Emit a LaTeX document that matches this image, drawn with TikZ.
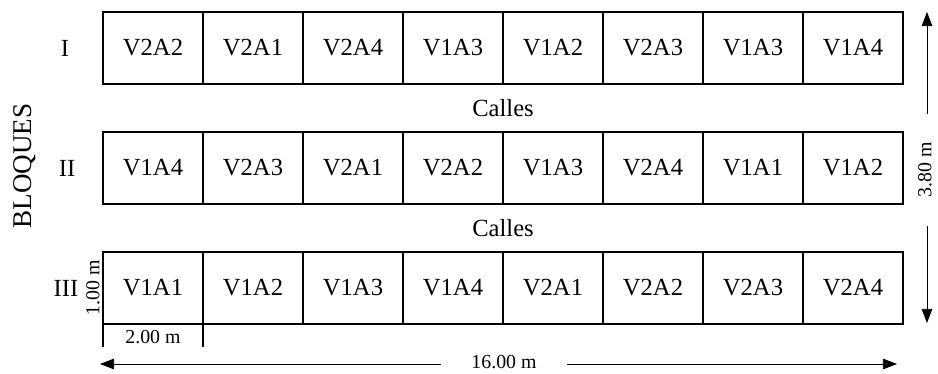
\documentclass[tikz,border=0pt]{standalone}
\usepackage{fontspec}
\setmainfont{Liberation Serif}
\usetikzlibrary{arrows.meta}
\begin{document}
\begin{tikzpicture}
[x=0.02cm,y=-0.02cm,>={Triangle[length=8pt,width=6pt]},
 cell/.style = {draw, line width=1pt, minimum width=2cm, minimum height=1.45cm, inner sep=0pt, outer sep=0pt, font=\fontsize{14}{16}\selectfont},
 big/.style = {font=\fontsize{14}{16}\selectfont},
 small/.style = {font=\fontsize{11.3}{13}\selectfont},]
\useasboundingbox (0,0) rectangle (938,374);
% bloque I
\foreach \lab [count=\i] in {V2A2,V2A1,V2A4,V1A3,V1A2,V2A3,V1A3,V1A4}
  \node[cell] (a\i) at (53+100*\i,48) {\lab};
% bloque II
\foreach \lab [count=\i] in {V1A4,V2A3,V2A1,V2A2,V1A3,V2A4,V1A1,V1A2}
  \node[cell] (b\i) at (53+100*\i,168) {\lab};
% bloque III
\foreach \lab [count=\i] in {V1A1,V1A2,V1A3,V1A4,V2A1,V2A2,V2A3,V2A4}
  \node[cell] (c\i) at (53+100*\i,288) {\lab};

\node[big] (I) at (65,48) {I};
\node[big] (II) at (67,168) {II};
\node[big] (III) at (66,288) {III};
\node[big] at (503,108) {Calles};
\node[big] at (503,228) {Calles};
\node[font=\fontsize{15.4}{18}\selectfont, rotate=90] (B) at (25,166) {BLOQUES};

% medidas de una parcela
\node[small, rotate=90, inner sep=0pt] (h) at (93,288) {1.00 m};
\coordinate (p) at (103,347);
\coordinate (q) at (203,347);
\draw[line width=1pt] (c1.south west)--(p);
\draw[line width=1pt] (c1.south east)--(q);
\node[small] (w) at (153,337) {2.00 m};

% medidas totales
\node[small, inner xsep=17pt] (L) at (504,362) {16.00 m};
\coordinate (L1) at (100,364);
\coordinate (L2) at (897,364);
\draw[->] (L.west |- L1)--(L1);
\draw[->] (L.east |- L2)--(L2);
\node[small, rotate=90, inner xsep=16pt] (H) at (925,170) {3.80 m};
\coordinate (H1) at (927,12);
\coordinate (H2) at (927,323);
\draw[->] (H.east -| H1)--(H1);
\draw[->] (H.west -| H2)--(H2);

\end{tikzpicture}
\end{document}
